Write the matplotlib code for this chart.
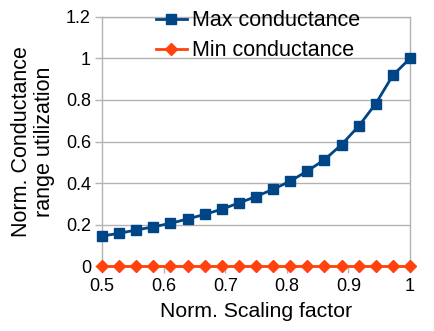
import matplotlib
matplotlib.use("Agg")
import matplotlib.pyplot as plt
import numpy as np

plt.rcParams['font.family'] = ['Liberation Sans', 'DejaVu Sans']

# data
scaling = [0.5, 0.5278, 0.5556, 0.5833, 0.6111, 0.6389, 0.6667, 0.6944, 0.7222,
           0.75, 0.7778, 0.8056, 0.8333, 0.8611, 0.8889, 0.9167, 0.9444, 0.9722, 1.0]
max_cond = [0.145, 0.158, 0.174, 0.189, 0.206, 0.227, 0.249, 0.274, 0.304,
            0.335, 0.370, 0.409, 0.458, 0.512, 0.585, 0.674, 0.782, 0.919, 1.0]
min_cond = [0.0] * 19

xticks = [0.5, 0.6, 0.7, 0.8, 0.9, 1.0]
xlabels = ['0.5', '0.6', '0.7', '0.8', '0.9', '1']
yticks = [0, 0.2, 0.4, 0.6, 0.8, 1.0, 1.2]
ylabels = ['0', '0.2', '0.4', '0.6', '0.8', '1', '1.2']

grey = '#b3b3b3'

fig = plt.figure(figsize=(4.35, 3.31), dpi=100)
ax = fig.add_axes([0.2345, 0.196, 0.708, 0.753])

ax.plot(scaling, max_cond, color='#004586', lw=2, marker='s', ms=7.5,
        label='Max conductance', clip_on=False, zorder=3)
ax.plot(scaling, min_cond, color='#ff420e', lw=2, marker='D', ms=6,
        label='Min conductance', clip_on=False, zorder=3)

ax.set_xlim(0.5, 1.0)
ax.set_ylim(0, 1.2)
ax.set_xticks(xticks)
ax.set_xticklabels(xlabels)
ax.set_yticks(yticks)
ax.set_yticklabels(ylabels)
ax.tick_params(labelsize=13, color=grey, length=5, width=1)
ax.tick_params(axis='y', pad=3)
ax.yaxis.grid(True, color=grey, lw=1)
ax.set_axisbelow(True)
for s in ax.spines.values():
    s.set_color(grey)
    s.set_linewidth(1)

ax.set_xlabel('Norm. Scaling factor', fontsize=15.3, labelpad=5)
ax.set_ylabel('Norm. Conductance\nrange utilization', fontsize=15.5, labelpad=8,
              linespacing=1.1)

fig.legend(loc='upper left', bbox_to_anchor=(0.315, 1.028), frameon=False,
           fontsize=15.5, handlelength=1.4, handletextpad=0.25, labelspacing=0.42)

fig.savefig('out.png', dpi=100)
